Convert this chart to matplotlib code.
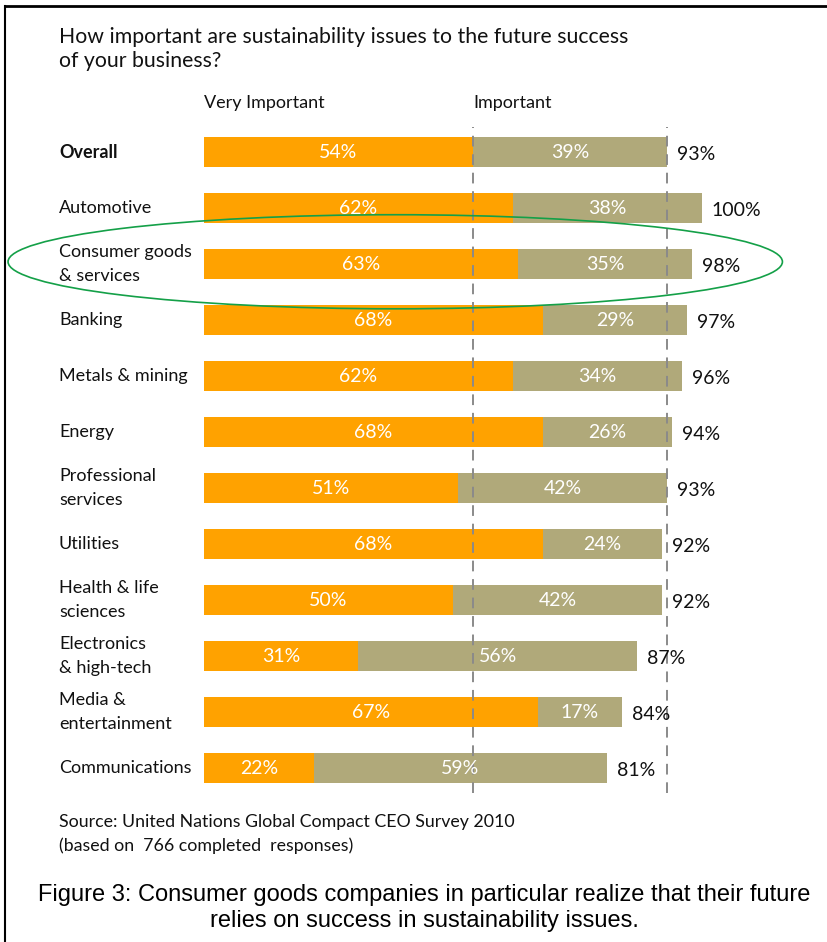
import matplotlib.pyplot as plt
from matplotlib.patches import Ellipse
from matplotlib.transforms import blended_transform_factory

categories = ['Overall', 'Automotive', 'Consumer goods\n& services', 'Banking',
              'Metals & mining', 'Energy', 'Professional\nservices', 'Utilities',
              'Health & life\nsciences', 'Electronics\n& high-tech',
              'Media &\nentertainment', 'Communications']
very_important = [54, 62, 63, 68, 62, 68, 51, 68, 50, 31, 67, 22]
important = [39, 38, 35, 29, 34, 26, 42, 24, 42, 56, 17, 59]
totals = [93, 100, 98, 97, 96, 94, 93, 92, 92, 87, 84, 81]
highlight = 2

ORANGE = '#FFA200'
KHAKI = '#B0A97A'
FONT = ['Lato', 'DejaVu Sans']

W, H = 827, 942
fig = plt.figure(figsize=(W / 100, H / 100), dpi=100)
ax = fig.add_axes([204 / W, 1 - 796 / H, 597.6 / W, 672 / H])
ax.set_xlim(0, 120)
ax.set_ylim(len(categories) - 0.5, -0.5)
ax.axis('off')

rows = list(range(len(categories)))
ax.barh(rows, very_important, height=0.54, color=ORANGE, zorder=2)
ax.barh(rows, important, left=very_important, height=0.54, color=KHAKI, zorder=2)

# dashed guides at overall values
for xv in (very_important[0], totals[0]):
    ax.axvline(xv, ymin=0.005, ymax=0.995, color='#8A8A8A', lw=1.4,
               dashes=(5.5, 4), zorder=3)

lab_tr = blended_transform_factory(fig.transFigure, ax.transData)
for i in rows:
    v, p, t = very_important[i], important[i], totals[i]
    ax.text(v / 2, i, f'{v}%', color='white', ha='center', va='center',
            fontsize=14, family=FONT, zorder=4)
    ax.text(v + p / 2, i, f'{p}%', color='white', ha='center', va='center',
            fontsize=14, family=FONT, zorder=4)
    ax.text(t + 1.9, i + 0.04, f'{t}%', color='#111111', ha='left', va='center',
            fontsize=14, family=FONT, zorder=4)
    ax.text(59 / W, i, categories[i], transform=lab_tr, ha='left', va='center',
            fontsize=13, family=FONT, linespacing=1.6, color='#111111',
            fontweight='bold' if i == 0 else 'normal')

ax.add_patch(Ellipse((38.4, highlight - 0.04), 155.5, 1.68, fill=False,
                     edgecolor='#14A048', lw=1.2, clip_on=False, zorder=5))

fig.text(59 / W, 1 - 49 / H, 'How important are sustainability issues to the future success\nof your business?',
         ha='left', va='center', fontsize=15.3, family=FONT, linespacing=1.3, color='#111111')
fig.text(204 / W, 1 - 103 / H, 'Very Important', ha='left', va='center',
         fontsize=13, family=FONT, color='#111111')
fig.text(473 / W, 1 - 103 / H, 'Important', ha='left', va='center',
         fontsize=13, family=FONT, color='#111111')
fig.text(59 / W, 1 - 834 / H, 'Source: United Nations Global Compact CEO Survey 2010\n(based on  766 completed  responses)',
         ha='left', va='center', fontsize=12.8, family=FONT, linespacing=1.6, color='#111111')
fig.text(424 / W, 1 - 908 / H, 'Figure 3: Consumer goods companies in particular realize that their future\nrelies on success in sustainability issues.',
         ha='center', va='center', fontsize=17, family='Liberation Sans', linespacing=1.2, color='black')

# frame of the page (top and left edges)
fig.add_artist(plt.Line2D([5 / W, 1], [1 - 6 / H, 1 - 6 / H], transform=fig.transFigure, color='black', lw=2))
fig.add_artist(plt.Line2D([5 / W, 5 / W], [0, 1 - 6 / H], transform=fig.transFigure, color='black', lw=1.5))

fig.savefig('out.png', dpi=100)
